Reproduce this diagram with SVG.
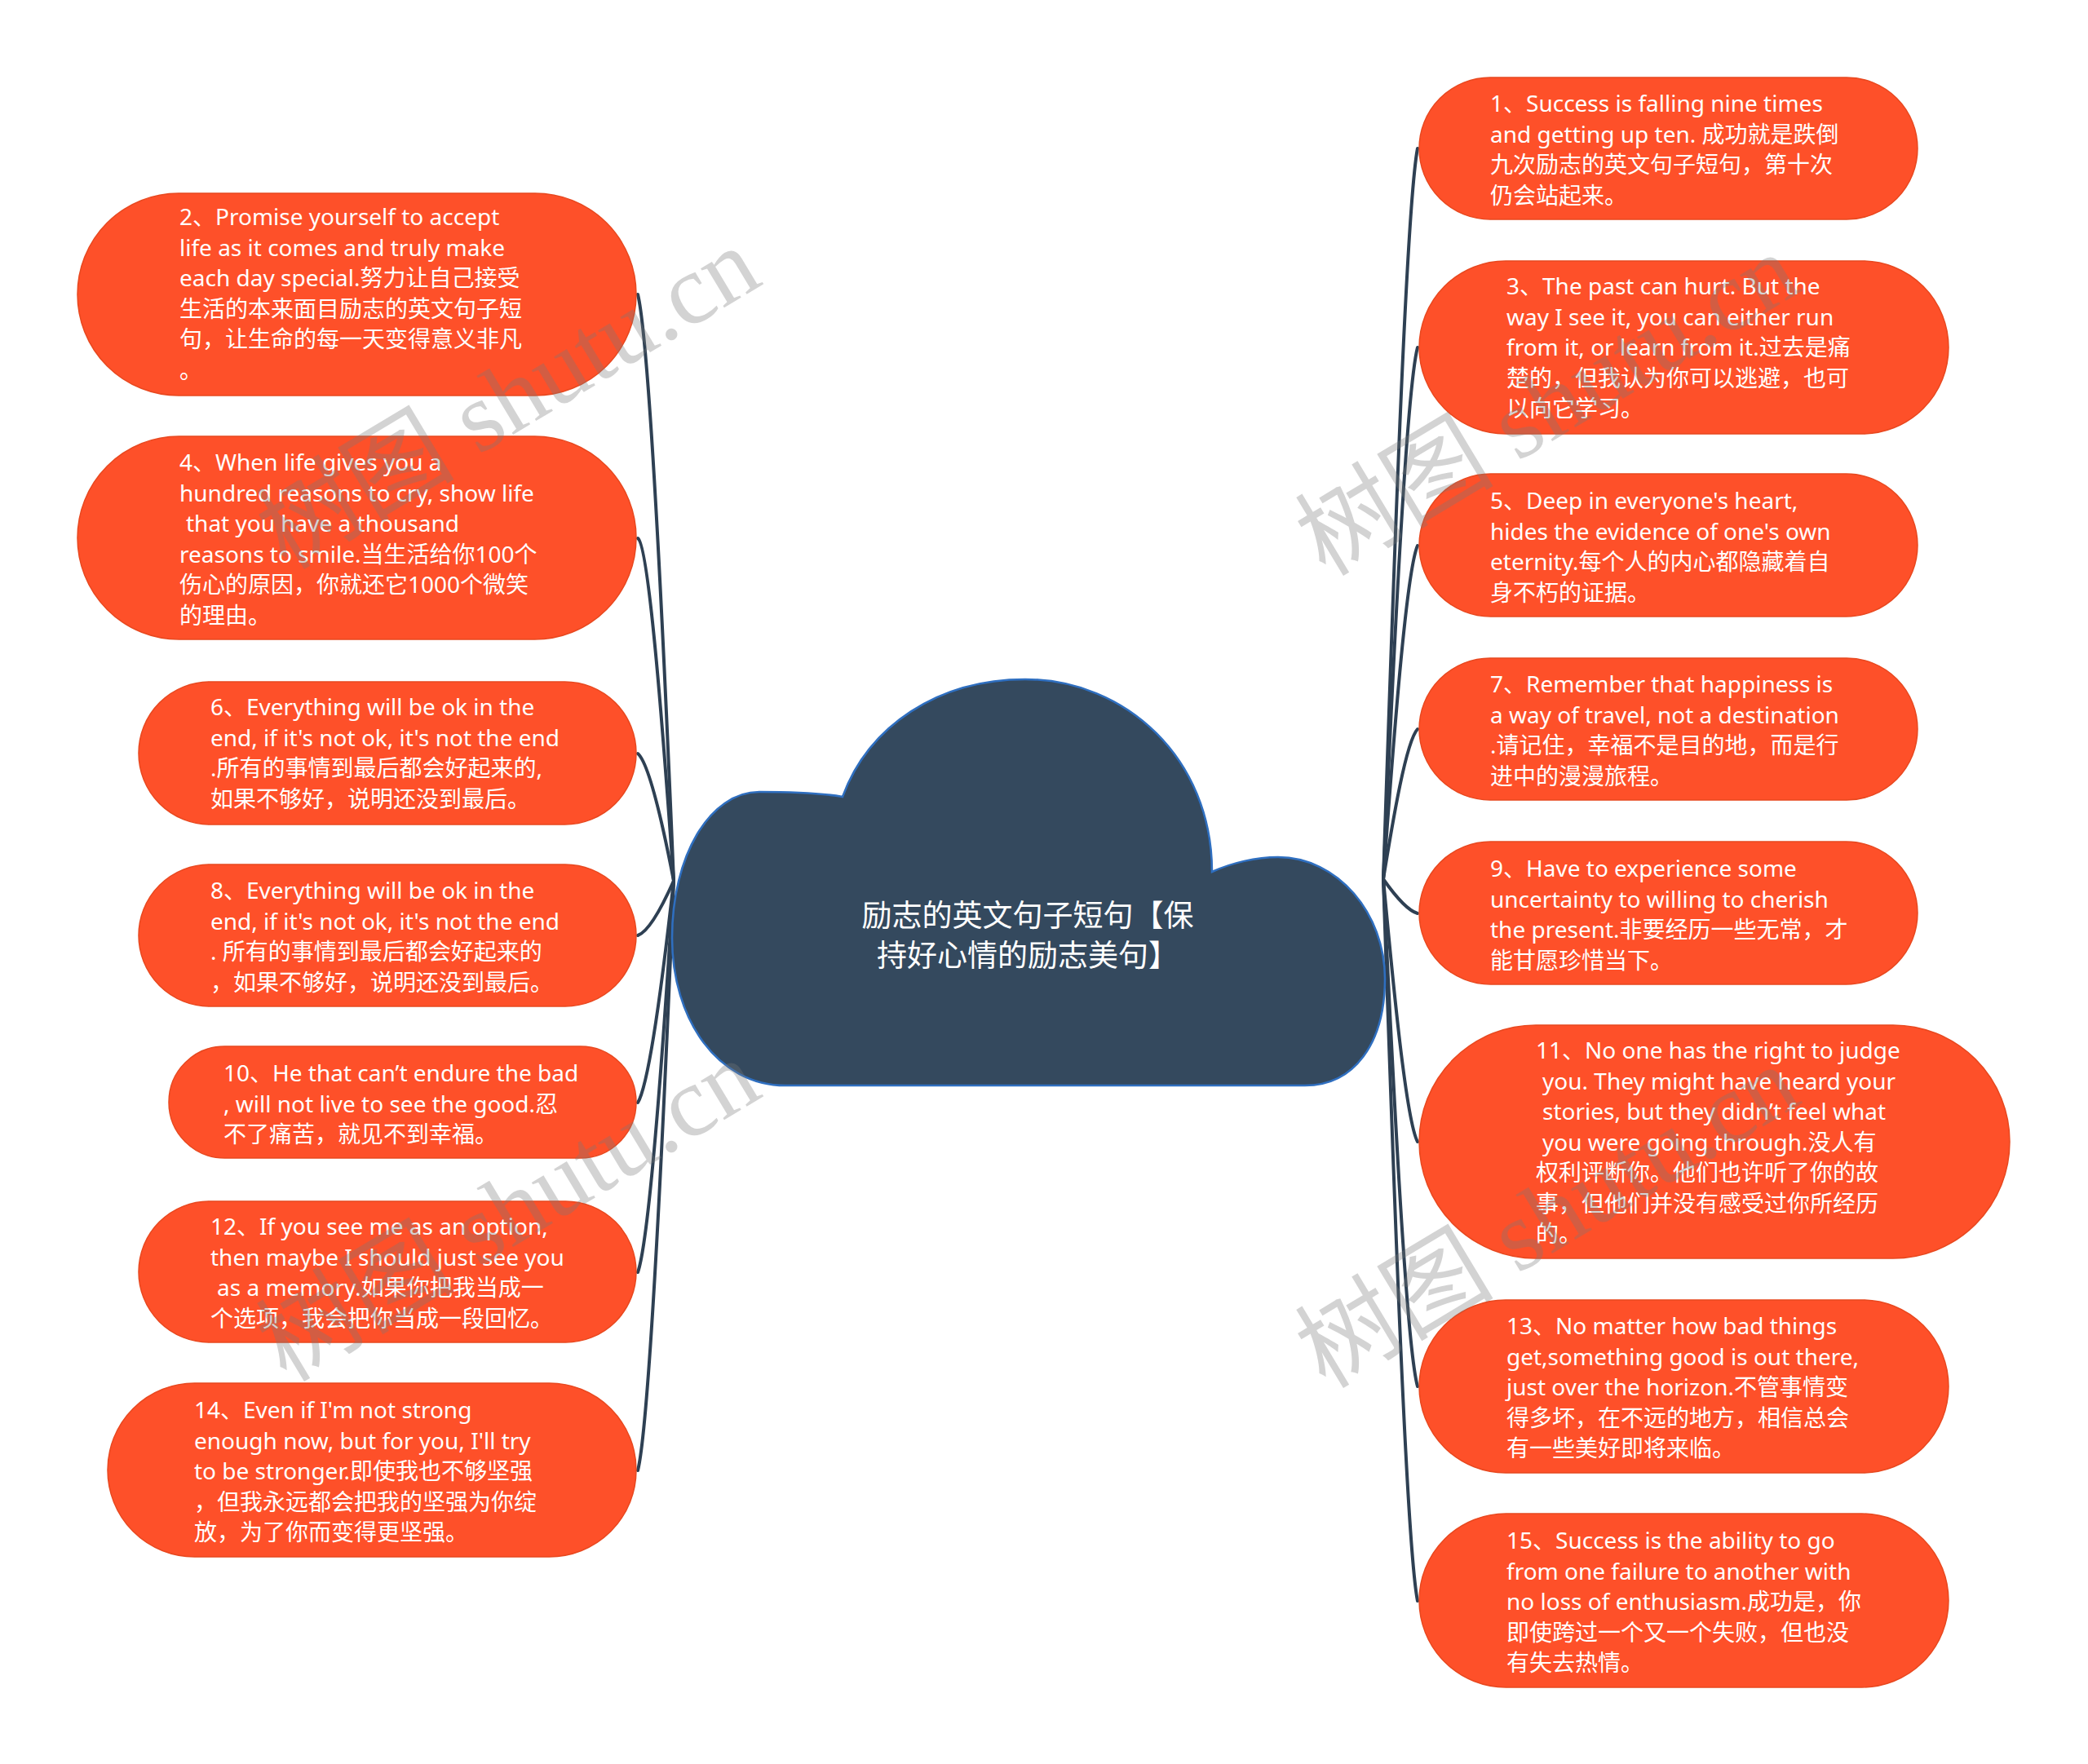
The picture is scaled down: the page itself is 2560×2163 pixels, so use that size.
<svg xmlns="http://www.w3.org/2000/svg" width="2560" height="2163" viewBox="0 0 2560 2163">
<style>
.node{fill:#FE5029;stroke:#E8481F;stroke-width:1.5}
.t{font-family:"Noto Sans","Noto Sans CJK SC",sans-serif;font-size:28px;fill:#FFFFFF}
.ct{font-family:"Noto Sans CJK SC",sans-serif;font-size:37px;fill:#FFFFFF;text-anchor:middle}
.link{fill:none;stroke:#2E4053;stroke-width:4;stroke-linecap:round}
.wm{font-family:"Liberation Serif","Noto Sans CJK SC",serif;font-size:122px;fill:#7A7A7A;fill-opacity:0.33}
</style>
<rect width="2560" height="2163" fill="#FFFFFF"/>
<g id="connectors">
<path class="link" d="M826 1080 C814 792 796 419 782 361"/>
<path class="link" d="M826 1080 C814 912 796 669 782 660"/>
<path class="link" d="M826 1080 C814 1018 796 936 782 924"/>
<path class="link" d="M826 1080 C814 1107 796 1142 782 1147"/>
<path class="link" d="M826 1080 C814 1188 796 1329 782 1352"/>
<path class="link" d="M826 1080 C814 1272 796 1520 782 1560"/>
<path class="link" d="M826 1080 C814 1369 796 1747 782 1803"/>
<path class="link" d="M1696 1078 C1708 718 1724 254 1738 182"/>
<path class="link" d="M1696 1078 C1708 817 1724 479 1738 426"/>
<path class="link" d="M1696 1078 C1708 914 1724 701 1738 669"/>
<path class="link" d="M1696 1078 C1708 1004 1724 909 1738 894"/>
<path class="link" d="M1696 1078 C1708 1095 1724 1116 1738 1120"/>
<path class="link" d="M1696 1078 C1708 1207 1724 1374 1738 1400"/>
<path class="link" d="M1696 1078 C1708 1327 1724 1650 1738 1700"/>
<path class="link" d="M1696 1078 C1708 1432 1724 1893 1738 1963"/>
</g>
<g id="center">
<path d="M963 1331 C880 1331 824 1250 824 1150 C824 1050 870 971 931 971 C975 971 1010 973 1033 977 C1065 890 1150 833 1257 833 C1380 833 1486 930 1486 1069 C1510 1058 1540 1051 1567 1051 C1640 1051 1698 1120 1698 1200 C1698 1280 1660 1331 1600 1331 Z" fill="#34495E" stroke="#2F6FC0" stroke-width="2.5"/>
<text class="ct" x="1260" y="1136">励志的英文句子短句【保</text>
<text class="ct" x="1260" y="1185">持好心情的励志美句】</text>
</g>
<g id="n2">
<rect class="node" x="95" y="237" width="685" height="248" rx="124"/>
<text class="t" x="220" y="276"><tspan x="220">2、Promise yourself to accept</tspan><tspan x="220" dy="37.5">life as it comes and truly make</tspan><tspan x="220" dy="37.5">each day special.努力让自己接受</tspan><tspan x="220" dy="37.5">生活的本来面目励志的英文句子短</tspan><tspan x="220" dy="37.5">句，让生命的每一天变得意义非凡</tspan><tspan x="220" dy="37.5">。</tspan></text>
</g>
<g id="n4">
<rect class="node" x="95" y="535" width="685" height="249" rx="124.5"/>
<text class="t" x="220" y="577"><tspan x="220">4、When life gives you a</tspan><tspan x="220" dy="37.5">hundred reasons to cry, show life</tspan><tspan x="228" dy="37.5">that you have a thousand</tspan><tspan x="220" dy="37.5">reasons to smile.当生活给你100个</tspan><tspan x="220" dy="37.5">伤心的原因，你就还它1000个微笑</tspan><tspan x="220" dy="37.5">的理由。</tspan></text>
</g>
<g id="n6">
<rect class="node" x="170" y="836" width="610" height="175" rx="87.5"/>
<text class="t" x="258" y="877"><tspan x="258">6、Everything will be ok in the</tspan><tspan x="258" dy="37.5">end, if it's not ok, it's not the end</tspan><tspan x="258" dy="37.5">.所有的事情到最后都会好起来的,</tspan><tspan x="258" dy="37.5">如果不够好，说明还没到最后。</tspan></text>
</g>
<g id="n8">
<rect class="node" x="170" y="1060" width="610" height="174" rx="87"/>
<text class="t" x="258" y="1102"><tspan x="258">8、Everything will be ok in the</tspan><tspan x="258" dy="37.5">end, if it's not ok, it's not the end</tspan><tspan x="258" dy="37.5">. 所有的事情到最后都会好起来的</tspan><tspan x="258" dy="37.5">，如果不够好，说明还没到最后。</tspan></text>
</g>
<g id="n10">
<rect class="node" x="207" y="1283" width="573" height="137" rx="68.5"/>
<text class="t" x="274" y="1326"><tspan x="274">10、He that can’t endure the bad</tspan><tspan x="274" dy="37.5">, will not live to see the good.忍</tspan><tspan x="274" dy="37.5">不了痛苦，就见不到幸福。</tspan></text>
</g>
<g id="n12">
<rect class="node" x="170" y="1473" width="610" height="173" rx="86.5"/>
<text class="t" x="258" y="1514"><tspan x="258">12、If you see me as an option,</tspan><tspan x="258" dy="37.5">then maybe I should just see you</tspan><tspan x="266" dy="37.5">as a memory.如果你把我当成一</tspan><tspan x="258" dy="37.5">个选项，我会把你当成一段回忆。</tspan></text>
</g>
<g id="n14">
<rect class="node" x="132" y="1696" width="648" height="213" rx="106.5"/>
<text class="t" x="238" y="1739"><tspan x="238">14、Even if I'm not strong</tspan><tspan x="238" dy="37.5">enough now, but for you, I'll try</tspan><tspan x="238" dy="37.5">to be stronger.即使我也不够坚强</tspan><tspan x="238" dy="37.5">，但我永远都会把我的坚强为你绽</tspan><tspan x="238" dy="37.5">放，为了你而变得更坚强。</tspan></text>
</g>
<g id="n1">
<rect class="node" x="1740" y="95" width="611" height="174" rx="87"/>
<text class="t" x="1827" y="137"><tspan x="1827">1、Success is falling nine times</tspan><tspan x="1827" dy="37.5">and getting up ten. 成功就是跌倒</tspan><tspan x="1827" dy="37.5">九次励志的英文句子短句，第十次</tspan><tspan x="1827" dy="37.5">仍会站起来。</tspan></text>
</g>
<g id="n3">
<rect class="node" x="1740" y="320" width="649" height="212" rx="106"/>
<text class="t" x="1847" y="361"><tspan x="1847">3、The past can hurt. But the</tspan><tspan x="1847" dy="37.5">way I see it, you can either run</tspan><tspan x="1847" dy="37.5">from it, or learn from it.过去是痛</tspan><tspan x="1847" dy="37.5">楚的，但我认为你可以逃避，也可</tspan><tspan x="1847" dy="37.5">以向它学习。</tspan></text>
</g>
<g id="n5">
<rect class="node" x="1740" y="581" width="611" height="175" rx="87.5"/>
<text class="t" x="1827" y="624"><tspan x="1827">5、Deep in everyone's heart,</tspan><tspan x="1827" dy="37.5">hides the evidence of one's own</tspan><tspan x="1827" dy="37.5">eternity.每个人的内心都隐藏着自</tspan><tspan x="1827" dy="37.5">身不朽的证据。</tspan></text>
</g>
<g id="n7">
<rect class="node" x="1740" y="807" width="611" height="174" rx="87"/>
<text class="t" x="1827" y="849"><tspan x="1827">7、Remember that happiness is</tspan><tspan x="1827" dy="37.5">a way of travel, not a destination</tspan><tspan x="1827" dy="37.5">.请记住，幸福不是目的地，而是行</tspan><tspan x="1827" dy="37.5">进中的漫漫旅程。</tspan></text>
</g>
<g id="n9">
<rect class="node" x="1740" y="1032" width="611" height="175" rx="87.5"/>
<text class="t" x="1827" y="1075"><tspan x="1827">9、Have to experience some</tspan><tspan x="1827" dy="37.5">uncertainty to willing to cherish</tspan><tspan x="1827" dy="37.5">the present.非要经历一些无常，才</tspan><tspan x="1827" dy="37.5">能甘愿珍惜当下。</tspan></text>
</g>
<g id="n11">
<rect class="node" x="1740" y="1257" width="724" height="286" rx="143"/>
<text class="t" x="1883" y="1298"><tspan x="1883">11、No one has the right to judge</tspan><tspan x="1891" dy="37.5">you. They might have heard your</tspan><tspan x="1891" dy="37.5">stories, but they didn’t feel what</tspan><tspan x="1891" dy="37.5">you were going through.没人有</tspan><tspan x="1883" dy="37.5">权利评断你。他们也许听了你的故</tspan><tspan x="1883" dy="37.5">事，但他们并没有感受过你所经历</tspan><tspan x="1883" dy="37.5">的。</tspan></text>
</g>
<g id="n13">
<rect class="node" x="1740" y="1594" width="649" height="212" rx="106"/>
<text class="t" x="1847" y="1636"><tspan x="1847">13、No matter how bad things</tspan><tspan x="1847" dy="37.5">get,something good is out there,</tspan><tspan x="1847" dy="37.5">just over the horizon.不管事情变</tspan><tspan x="1847" dy="37.5">得多坏，在不远的地方，相信总会</tspan><tspan x="1847" dy="37.5">有一些美好即将来临。</tspan></text>
</g>
<g id="n15">
<rect class="node" x="1740" y="1856" width="649" height="213" rx="106.5"/>
<text class="t" x="1847" y="1899"><tspan x="1847">15、Success is the ability to go</tspan><tspan x="1847" dy="37.5">from one failure to another with</tspan><tspan x="1847" dy="37.5">no loss of enthusiasm.成功是，你</tspan><tspan x="1847" dy="37.5">即使跨过一个又一个失败，但也没</tspan><tspan x="1847" dy="37.5">有失去热情。</tspan></text>
</g>
<g id="watermark">
<text class="wm" transform="translate(351 700) rotate(-31)">树图 shutu.cn</text>
<text class="wm" transform="translate(351 1696) rotate(-31)">树图 shutu.cn</text>
<text class="wm" transform="translate(1625 708) rotate(-31)">树图 shutu.cn</text>
<text class="wm" transform="translate(1625 1704) rotate(-31)">树图 shutu.cn</text>
</g>
</svg>
